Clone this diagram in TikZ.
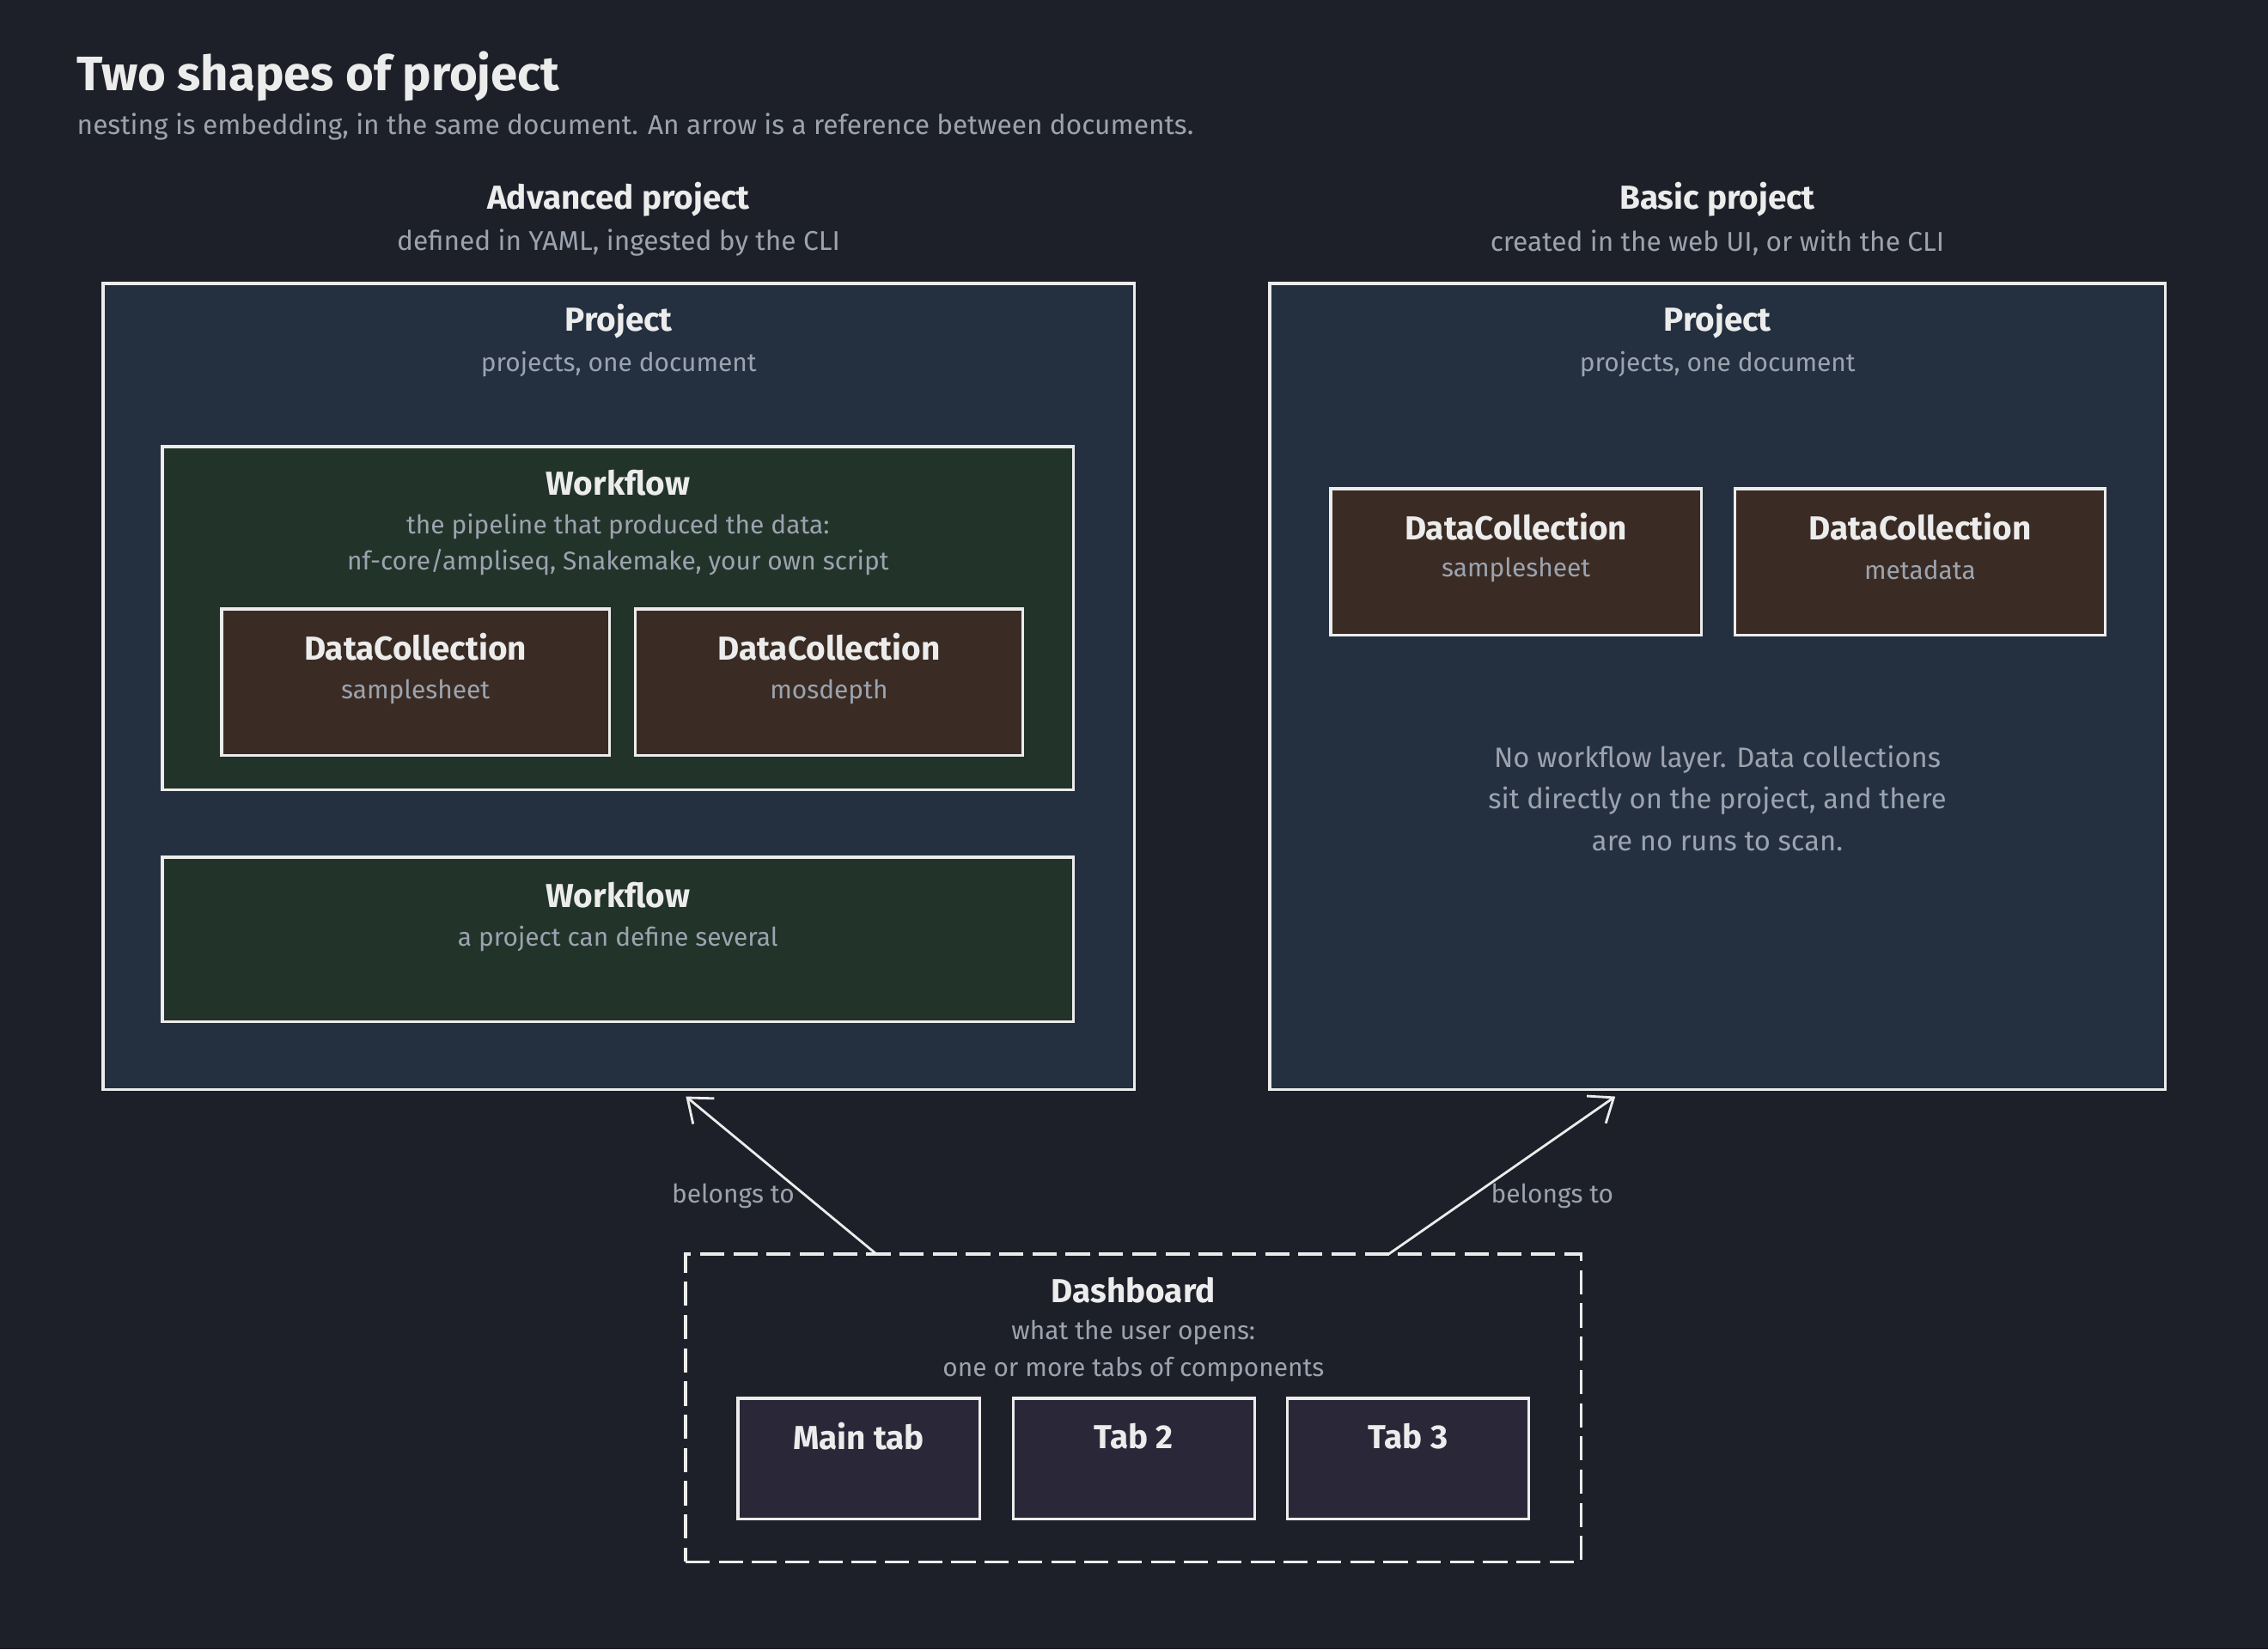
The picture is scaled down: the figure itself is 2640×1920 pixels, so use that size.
\documentclass[tikz,border=0pt]{standalone}
\usepackage{fontspec}
\setmainfont{Fira Sans}
\usepackage{tikz}
\usetikzlibrary{arrows.meta,positioning,calc}
\definecolor{bgdark}{HTML}{1E2029}
\definecolor{projblue}{HTML}{243040}
\definecolor{wfgreen}{HTML}{22332A}
\definecolor{dcbrown}{HTML}{3A2C24}
\definecolor{tabpurple}{HTML}{2A2838}
\definecolor{inkwhite}{HTML}{ECECEC}
\definecolor{inkgray}{HTML}{9CA3AF}

\begin{document}
\begin{tikzpicture}[
    x=0.01cm, y=-0.01cm,
    box/.style={rectangle, draw=inkwhite, line width=0.9pt, anchor=north west, inner sep=0pt, outer sep=0pt},
    proj/.style={box, fill=projblue, minimum height=9.38cm},
    wflow/.style={box, fill=wfgreen, minimum width=10.6cm},
    dcol/.style={box, fill=dcbrown, minimum height=1.7cm},
    tabbox/.style={box, fill=tabpurple, minimum width=2.81cm, minimum height=1.4cm},
    dashbox/.style={box, dash pattern=on 8pt off 3pt, minimum width=10.42cm, minimum height=3.58cm},
    bighead/.style={text=inkwhite, font=\fontsize{16}{19}\selectfont\bfseries, anchor=west, inner sep=0pt},
    head/.style={text=inkwhite, font=\fontsize{11}{13}\selectfont\bfseries, inner sep=0pt},
    subtxt/.style={text=inkgray, font=\fontsize{8.5}{12}\selectfont, inner sep=0pt, align=center},
    link/.style={draw=inkwhite, line width=0.8pt, -{Straight Barb[length=7pt, width=11pt]}}
]
    % Canvas
    \fill[bgdark] (0,0) rectangle (2640,1920);
    \useasboundingbox (0,0) rectangle (2640,1920);

    % Heading
    \node[bighead] (fig_title) at (89,89) {Two shapes of project};
    \node[bighead, font=\fontsize{9}{11}\selectfont, text=inkgray] (fig_sub) at (89,148)
        {nesting is embedding, in the same document. An arrow is a reference between documents.};

    % Advanced project
    \node[head] (adv_head) at (720,232) {Advanced project};
    \node[subtxt, font=\fontsize{9}{11}\selectfont] (adv_sub) at (720,283) {defined in YAML, ingested by the CLI};
    \node[proj, minimum width=12cm] (adv) at (120,330) {};
    \node[head] (adv_title) at ($(adv.north)+(0,44)$) {Project};
    \node[subtxt] (adv_desc) at ($(adv.north)+(0,94)$) {projects, one document};

    \node[wflow, minimum height=3.99cm] (wf_one) at (189,520) {};
    \node[head] (wf_one_title) at ($(wf_one.north)+(0,42)$) {Workflow};
    \node[subtxt] (wf_one_desc) at ($(wf_one.north)+(0,114)$)
        {the pipeline that produced the data:\\nf-core/ampliseq, Snakemake, your own script};

    \node[dcol, minimum width=4.51cm] (dc_sheet) at (258,709) {};
    \node[dcol, minimum width=4.51cm, right=0.3cm of dc_sheet] (dc_depth) {};
    \node[head] (dc_sheet_title) at ($(dc_sheet.north)+(0,44)$) {DataCollection};
    \node[subtxt] (dc_sheet_desc) at ($(dc_sheet.north)+(0,96)$) {samplesheet};
    \node[head] (dc_depth_title) at ($(dc_depth.north)+(0,44)$) {DataCollection};
    \node[subtxt] (dc_depth_desc) at ($(dc_depth.north)+(0,96)$) {mosdepth};

    \node[wflow, minimum height=1.91cm] (wf_two) at (189,998) {};
    \node[head] (wf_two_title) at ($(wf_two.north)+(0,44)$) {Workflow};
    \node[subtxt] (wf_two_desc) at ($(wf_two.north)+(0,95)$) {a project can define several};

    % Basic project
    \node[head] (basic_head) at (1999,232) {Basic project};
    \node[subtxt, font=\fontsize{9}{11}\selectfont] (basic_sub) at (1999,283) {created in the web UI, or with the CLI};
    \node[proj, minimum width=10.42cm] (basic) at (1478,330) {};
    \node[head] (basic_title) at ($(basic.north)+(0,44)$) {Project};
    \node[subtxt] (basic_desc) at ($(basic.north)+(0,94)$) {projects, one document};

    \node[dcol, minimum width=4.31cm] (dc_basic_sheet) at (1549,569) {};
    \node[dcol, minimum width=4.31cm, right=0.39cm of dc_basic_sheet] (dc_meta) {};
    \node[head] (dc_basic_sheet_title) at ($(dc_basic_sheet.north)+(0,44)$) {DataCollection};
    \node[subtxt] (dc_basic_sheet_desc) at ($(dc_basic_sheet.north)+(0,94)$) {samplesheet};
    \node[head] (dc_meta_title) at ($(dc_meta.north)+(0,44)$) {DataCollection};
    \node[subtxt] (dc_meta_desc) at ($(dc_meta.north)+(0,94)$) {metadata};

    \node[subtxt, font=\fontsize{9.3}{13.8}\selectfont] (basic_note) at (1999,929)
        {No workflow layer. Data collections\\sit directly on the project, and there\\are no runs to scan.};

    % Dashboard
    \node[dashbox] (dash) at (798,1460) {};
    \node[head] (dash_title) at ($(dash.north)+(0,42)$) {Dashboard};
    \node[subtxt] (dash_desc) at ($(dash.north)+(0,113)$) {what the user opens:\\one or more tabs of components};

    \node[tabbox] (tab_main) at (859,1628) {};
    \node[tabbox, right=0.39cm of tab_main] (tab_two) {};
    \node[tabbox, right=0.38cm of tab_two] (tab_three) {};
    \node[head] (tab_main_txt) at ($(tab_main.north)+(0,44)$) {Main tab};
    \node[head] (tab_two_txt) at ($(tab_two.north)+(0,44)$) {Tab 2};
    \node[head] (tab_three_txt) at ($(tab_three.north)+(0,44)$) {Tab 3};

    % References
    \draw[link] ([xshift=2.22cm]dash.north west) -- node[subtxt, pos=0.37, left=0.12cm] (ref_adv) {belongs to}
        ([xshift=6.78cm, yshift=-0.08cm]adv.south west);
    \draw[link] ([xshift=8.18cm]dash.north west) -- node[subtxt, pos=0.37, right=0.2cm] (ref_basic) {belongs to}
        ([xshift=4.02cm, yshift=-0.08cm]basic.south west);
\end{tikzpicture}
\end{document}
